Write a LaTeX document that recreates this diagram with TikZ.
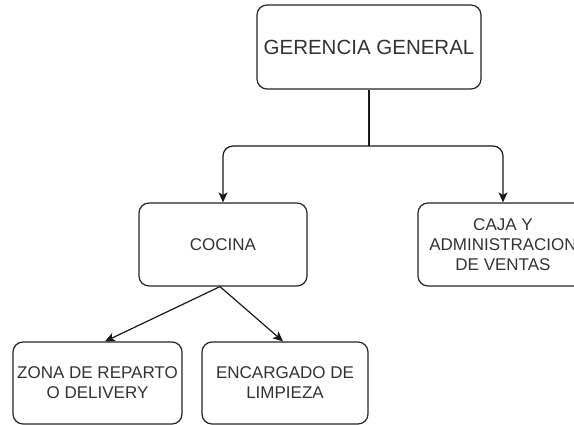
\documentclass[tikz,border=0pt]{standalone}
\usepackage{fontspec}
\setmainfont{Liberation Sans}
\usetikzlibrary{arrows.meta}
\begin{document}
\begin{tikzpicture}[x=1pt,y=-1pt,
  box/.style={draw=black!85, line width=1.2pt, rounded corners=10pt, fill=white,
    text=black!80, align=center, inner sep=0pt, minimum height=83pt},
  small/.style={font=\fontsize{17}{20}\selectfont},
  conn/.style={draw=black!90, line width=1.2pt},
  arr/.style={conn, -{Stealth[length=10pt,width=9pt,inset=2.5pt]}}]
\useasboundingbox (0,0) rectangle (574,425);
\node[box, minimum width=224pt, minimum height=84pt, font=\fontsize{20.5}{24}\selectfont] (gg) at (369,47) {GERENCIA GENERAL};
\node[box, small, minimum width=168pt] (coc) at (223,244.5) {COCINA};
\node[box, small, minimum width=170pt] (caja) at (503,244.5) {CAJA Y\\ADMINISTRACION\\DE VENTAS};
\node[box, small, minimum width=169pt, minimum height=82pt] (zona) at (97.5,383) {ZONA DE REPARTO\\O DELIVERY};
\node[box, small, minimum width=166pt, minimum height=82pt] (enc) at (285,383) {ENCARGADO DE\\LIMPIEZA};
\coordinate (j) at (369,146);
\draw[conn] (gg.south) -- (j);
\draw[arr, rounded corners=10pt] (j) -| (coc.north);
\draw[arr, rounded corners=10pt] (j) -| (caja.north);
\draw[arr] ([xshift=-3pt]coc.south) -- ([xshift=7.5pt]zona.north);
\draw[arr] ([xshift=-3pt]coc.south) -- ([xshift=-2pt]enc.north);
\end{tikzpicture}
\end{document}
